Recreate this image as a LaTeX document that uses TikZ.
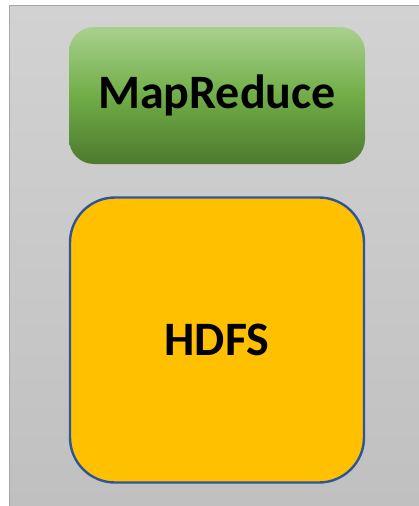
\documentclass[tikz,border=0pt]{standalone}
\usepackage{fontspec}
\setmainfont{Carlito}
\definecolor{bgtop}{HTML}{D2D2D2}
\definecolor{bgbot}{HTML}{C0C0C0}
\definecolor{bgline}{HTML}{A6A6A6}
\definecolor{grtop}{HTML}{A9D18E}
\definecolor{grmid}{HTML}{70AD47}
\definecolor{grbot}{HTML}{4E7A2E}
\definecolor{hdfs}{HTML}{FFC000}
\definecolor{hdfsline}{HTML}{2F5597}
\tikzset{
  mrbox/.style={rounded corners=25pt, top color=grtop, bottom color=grbot, middle color=grmid, minimum width=296pt, minimum height=137pt, inner sep=0pt, font=\fontsize{48}{48}\selectfont\bfseries},
  hdbox/.style={rounded corners=45pt, fill=hdfs, draw=hdfsline, line width=2.4pt, minimum width=294pt, minimum height=285pt, inner sep=0pt, font=\fontsize{48}{48}\selectfont\bfseries}
}
\begin{document}
\begin{tikzpicture}[x=1pt,y=1pt]
\useasboundingbox (0,0) rectangle (419,-506);
\fill[top color=bgtop, bottom color=bgbot] (9.5,-5.5) rectangle (419,-506);
\draw[bgline, line width=1.2pt] (9.5,-506) -- (9.5,-5.5) -- (419,-5.5);
\node[mrbox] (mr) at (217,-95.5) {MapReduce};
\node[hdbox] (hd) at (217,-340) {HDFS};
\end{tikzpicture}
\end{document}
